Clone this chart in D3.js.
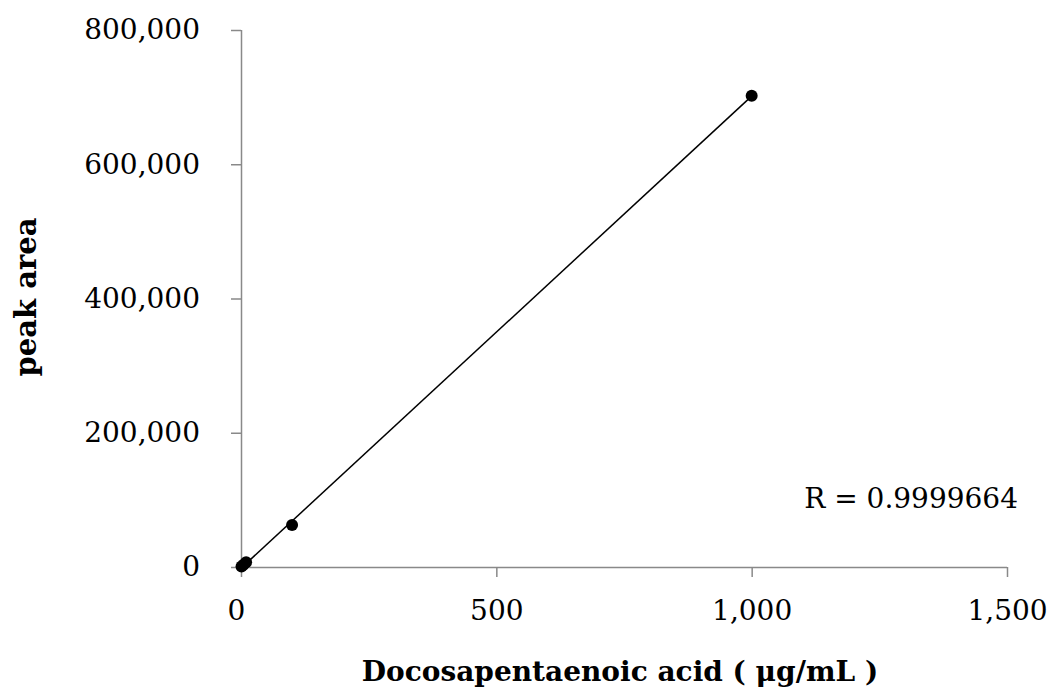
<!DOCTYPE html>
<html><head><meta charset="utf-8">
<script src="https://cdn.jsdelivr.net/npm/d3@7"></script>
<style>body{margin:0;background:#fff}</style>
</head><body>
<svg id="c" width="1048" height="691"></svg>
<script>
const concentrations = [1, 5, 10, 100, 1000];
const peakAreas = [700, 3500, 7000, 62500, 702000];
const xTicks = [0, 500, 1000, 1500];
const yTicks = [0, 200000, 400000, 600000, 800000];
const xLabel = "Docosapentaenoic acid ( μg/mL )";
const yLabel = "peak area";
const rLabel = "R = 0.9999664";

const svg = d3.select("#c");
const font = "'DejaVu Serif', serif";
const x = d3.scaleLinear().domain([0, 1500]).range([241, 1007]);
const y = d3.scaleLinear().domain([0, 800000]).range([567, 30]);
const fmt = d3.format(",");

const xa = svg.append("g").attr("transform", "translate(0,567)")
  .call(d3.axisBottom(x).tickValues(xTicks).tickFormat(fmt).tickSize(10).tickPadding(23));
const ya = svg.append("g").attr("transform", "translate(241,0)")
  .call(d3.axisLeft(y).tickValues(yTicks).tickFormat(fmt).tickSize(10).tickPadding(31));
[xa, ya].forEach(a => {
  a.selectAll("path,line").attr("stroke", "#898989").attr("stroke-width", 1.5);
  a.select(".domain").attr("d", a === xa ? "M241,0.5H1007" : "M0.5,30V567");
  a.selectAll("text").attr("font-family", font).attr("font-size", 28).attr("fill", "#000");
});
xa.selectAll(".tick text").filter(d => d === 0).attr("dx", -5);

// linear trendline (least squares)
const n = concentrations.length;
const mx = d3.mean(concentrations), my = d3.mean(peakAreas);
let sxy = 0, sxx = 0;
for (let i = 0; i < n; i++) { sxy += (concentrations[i]-mx)*(peakAreas[i]-my); sxx += (concentrations[i]-mx)**2; }
const slope = sxy / sxx, icpt = my - slope * mx;
const x0 = d3.min(concentrations), x1 = d3.max(concentrations);
svg.append("line").attr("x1", x(x0)).attr("y1", y(icpt + slope*x0))
  .attr("x2", x(x1)).attr("y2", y(icpt + slope*x1)).attr("stroke", "#000").attr("stroke-width", 1.5);

svg.append("g").selectAll("circle").data(concentrations).join("circle")
  .attr("cx", d => x(d)).attr("cy", (d, i) => y(peakAreas[i])).attr("r", 6).attr("fill", "#000");

svg.append("text").attr("x", 620).attr("y", 681).attr("text-anchor", "middle")
  .attr("font-family", font).attr("font-weight", "bold").attr("font-size", 28).text(xLabel);
svg.append("text").attr("transform", "translate(36,297) rotate(-90)").attr("text-anchor", "middle")
  .attr("font-family", font).attr("font-weight", "bold").attr("font-size", 29).text(yLabel);
svg.append("text").attr("x", 1018).attr("y", 508).attr("text-anchor", "end")
  .attr("font-family", font).attr("font-size", 28).text(rLabel);
</script>
</body></html>
